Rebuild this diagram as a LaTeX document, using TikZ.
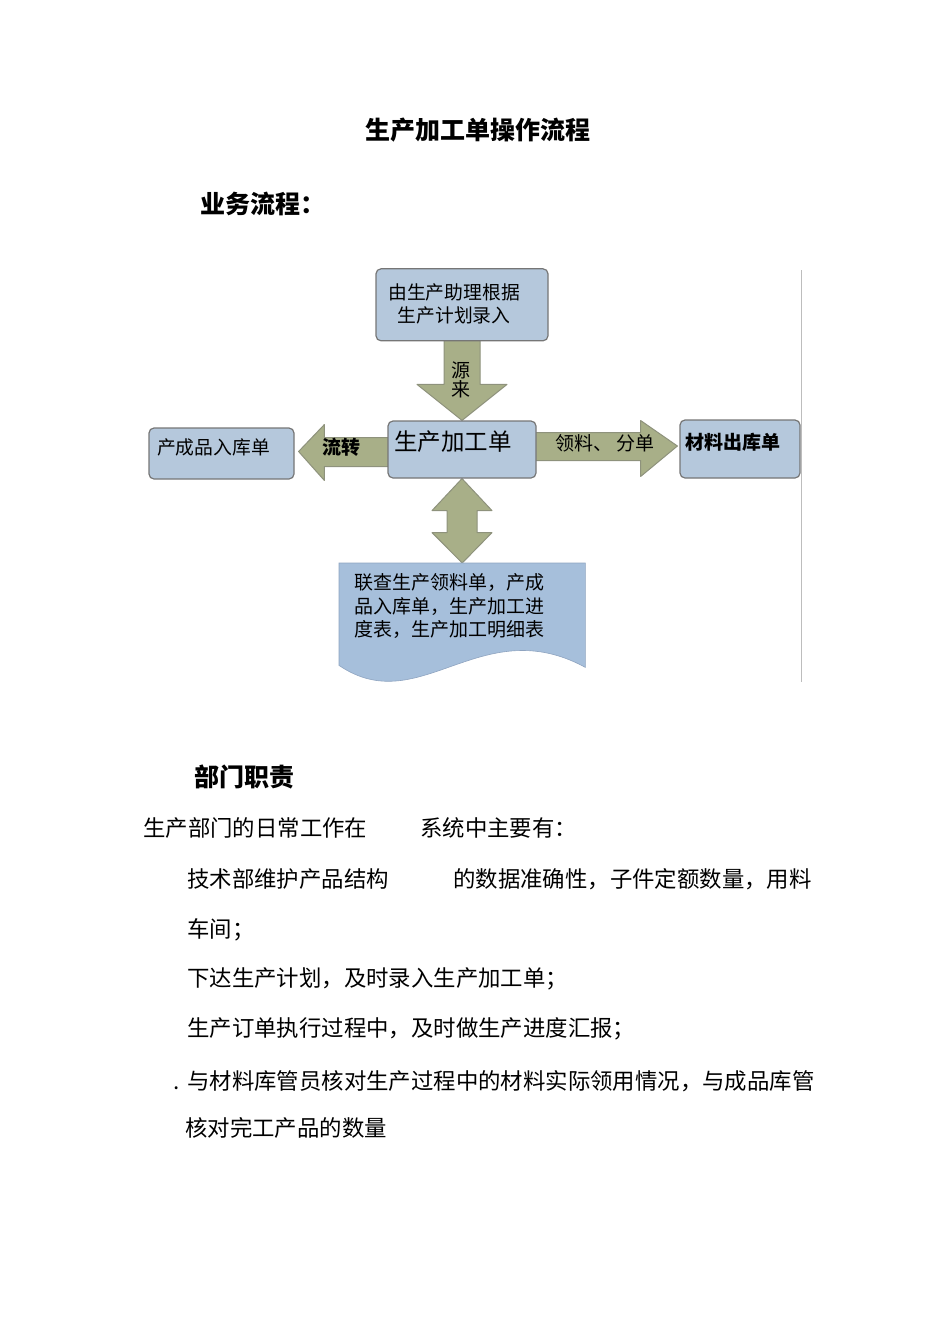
\documentclass[tikz,border=0pt]{standalone}
\usepackage{fontspec}
\setmainfont{Noto Sans CJK SC}
\usetikzlibrary{calc,positioning,backgrounds}
\definecolor{boxfill}{HTML}{B5C8DC}
\definecolor{boxline}{HTML}{767676}
\definecolor{arrowfill}{HTML}{A8AF88}
\definecolor{arrowline}{HTML}{8E927C}
\definecolor{docfill}{HTML}{A6BFDB}
\definecolor{docline}{HTML}{8FA4C0}
\definecolor{rule}{HTML}{BDBDBD}

\begin{document}
\begin{tikzpicture}[x=1pt,y=-1pt,
	box/.style={rectangle,rounded corners=5pt,draw=boxline,line width=1.2pt,fill=boxfill,inner sep=0pt,align=center},
	blockarrow/.style={draw=arrowline,fill=arrowfill,line width=1pt,line join=round},
	doc/.style={draw=docline,fill=docfill,line width=0.6pt},
	label/.style={inner sep=0pt,font=\fontsize{18.8}{23}\selectfont},
	heading/.style={anchor=base west,inner sep=0pt,font=\fontsize{25}{25}\selectfont\bfseries},
	body/.style={anchor=base west,inner sep=0pt,font=\fontsize{22.4}{22.4}\selectfont}
	]
\useasboundingbox (0,0) rectangle (950,1344);

% headings
\node [heading,anchor=base] (title) at (478,139.5) {生产加工单操作流程};
\node [heading] (flow) at (200,213.5) {业务流程：};

% boxes
\node [box,minimum width=148,minimum height=57] (order) at (462,449.5) {};
\node [label,font=\fontsize{23.5}{23.5}\selectfont] (ordertext) at (453,442) {生产加工单};
\node [box,minimum width=172,minimum height=72] (plan) [above=79pt of order] {};
\node [label,align=center] (plantext) at (454,303.5) {由生产助理根据\\生产计划录入};
\node [box,minimum width=145,minimum height=51] (stockin) at (221.5,453.5) {};
\node [label] (stockintext) at (213.5,447.5) {产成品入库单};
\node [box,minimum width=120,minimum height=58] (stockout) at (740,449) {};
\node [label,font=\fontsize{19}{19}\selectfont\bfseries] (stockouttext) at (733,442) {材料出库单};

% report (document shape)
\node [inner sep=0pt,minimum width=246,minimum height=104,anchor=north west] (report) at (339,563) {};
\draw [doc] (report.north west) -- (report.north east) -- (report.south east)
	.. controls ($(report.south east)+(-105,-57)$) and ($(report.south west)+(81,53)$) .. ($(report.south west)+(0,-2)$) -- cycle;
\node [label,anchor=north west,align=left,font=\fontsize{19}{23.5}\selectfont] (reporttext) at ($(report.north west)+(15,10.5)$) {联查生产领料单，产成\\品入库单，生产加工进\\度表，生产加工明细表};

% block arrows
\begin{pgfonlayer}{background}
\draw [blockarrow] ($(plan.south)+(-18,-3)$) -- ($(plan.south)+(-18,43)$) -- ($(plan.south)+(-45,43)$) -- (order.north)
	-- ($(plan.south)+(45,43)$) -- ($(plan.south)+(18,43)$) -- ($(plan.south)+(18,-3)$) -- cycle;
\draw [blockarrow] ($(order.west)+(2,-12)$) -- ($(order.west)+(-63,-12)$) -- ($(order.west)+(-63,-25)$) -- ($(stockin.east)+(4,-2)$)
	-- ($(order.west)+(-63,31)$) -- ($(order.west)+(-63,17)$) -- ($(order.west)+(2,17)$) -- cycle;
\draw [blockarrow] ($(order.east)+(-2,-17)$) -- ($(order.east)+(104,-17)$) -- ($(order.east)+(104,-29)$) -- ($(stockout.west)+(-2,-3)$)
	-- ($(order.east)+(104,27)$) -- ($(order.east)+(104,11)$) -- ($(order.east)+(-2,11)$) -- cycle;
\draw [blockarrow] (order.south) -- ($(order.south)+(30,32)$) -- ($(order.south)+(15,32)$) -- ($(order.south)+(15,54)$)
	-- ($(order.south)+(30,54)$) -- (report.north) -- ($(order.south)+(-30,54)$) -- ($(order.south)+(-15,54)$)
	-- ($(order.south)+(-15,32)$) -- ($(order.south)+(-30,32)$) -- cycle;
\end{pgfonlayer}

% arrow labels
\node [label,align=center,font=\fontsize{19}{19}\selectfont] (source) at (461,380) {源\\来};
\node [label,font=\fontsize{19}{19}\selectfont\bfseries] (transfer) at (341,447) {流转};
\node [label,font=\fontsize{19}{19}\selectfont] (issue) at (605,443) {领料、 分单};

% right rule
\draw [rule,line width=1pt] (801,270) -- (801,682);

% duties
\node [heading] (duty) at (194,786.5) {部门职责};
\node [body] (l1a) at (143,836.4) {生产部门的日常工作在};
\node [body] (l1b) at (420,836.4) {系统中主要有：};
\node [body] (l2a) at (187,887.4) {技术部维护产品结构};
\node [body] (l2b) at (453,887.4) {的数据准确性，子件定额数量，用料};
\node [body] (l3) at (187,937.4) {车间；};
\node [body] (l4) at (187,986.4) {下达生产计划，及时录入生产加工单；};
\node [body] (l5) at (187,1036.4) {生产订单执行过程中，及时做生产进度汇报；};
\node [body] (l6dot) at (173,1089.4) {.};
\node [body] (l6) at (187,1089.4) {与材料库管员核对生产过程中的材料实际领用情况，与成品库管};
\node [body] (l7) at (185,1136.4) {核对完工产品的数量};
\end{tikzpicture}
\end{document}
